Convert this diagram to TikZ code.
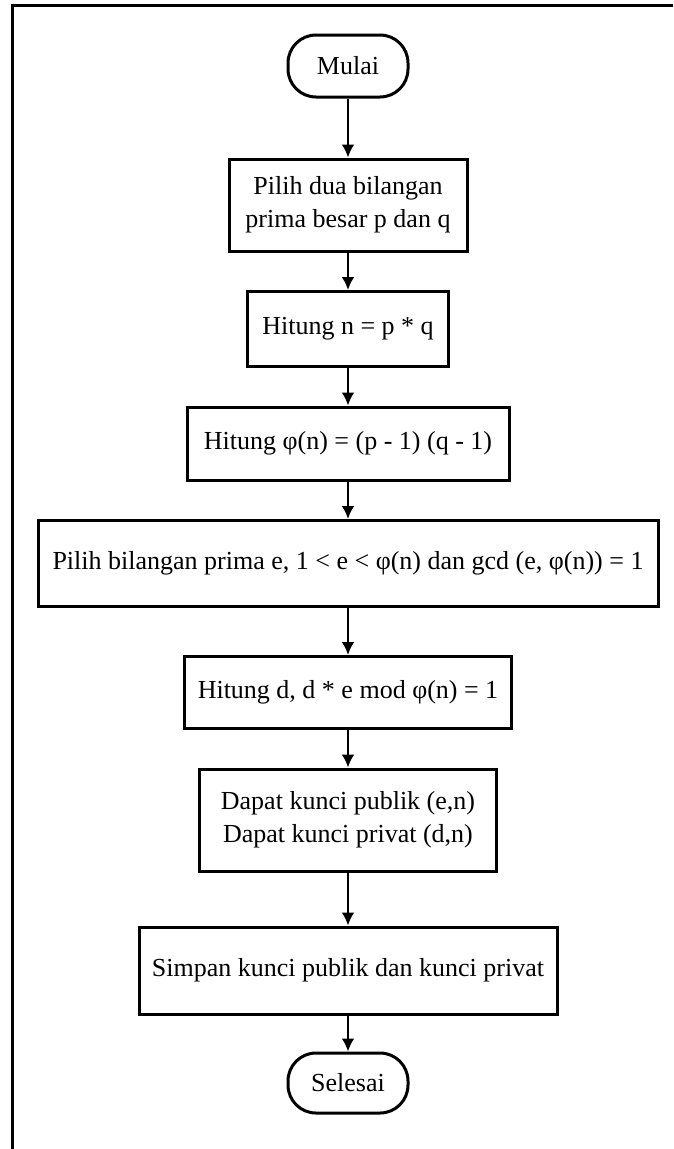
\documentclass[tikz,border=0pt]{standalone}
\usepackage{fontspec}
\setmainfont{Liberation Serif}
\usetikzlibrary{positioning,arrows.meta}
\def\dy{37.5pt}
\tikzstyle{proc}=[draw,rectangle,line width=3pt,align=center,inner sep=2pt,font=\fontsize{26}{33}\selectfont]
\tikzstyle{term}=[proc,rounded corners=28pt]
\newcommand{\newStep}[4]{\node[#4](#1)[#3]{#2};}
\newcommand{\newFlow}[2]{\path[->] (#1) edge (#2);}

\begin{document}
\begin{tikzpicture}[node distance=\dy,
    >={Latex[length=13pt,width=13pt]},
    line width=2.5pt  %arrows
    ]
    \useasboundingbox (0,0) rectangle (673pt,-1149pt);
    % frame, top and left only
    \draw[line width=3pt] (673pt,-5pt) -- (12pt,-5pt) -- (12pt,-1149pt);
    \newStep{start}{Mulai}{at={(348pt,-66pt)}}{term,minimum width=120pt,minimum height=62pt}
    \newStep{pick}{Pilih dua bilangan\\prima besar p dan q}{below=59pt of start}{proc,minimum width=238pt,minimum height=92pt}
    \newStep{mult}{Hitung n = p * q}{below=of pick}{proc,minimum width=201pt,minimum height=75pt}
    \newStep{phi}{Hitung φ(n) = (p - 1) (q - 1)}{below=of mult}{proc,minimum width=322pt,minimum height=73pt}
    \newStep{pube}{Pilih bilangan prima e, 1 < e < φ(n) dan gcd (e, φ(n)) = 1}{below=of phi}{proc,minimum width=620pt,minimum height=86pt}
    \newStep{prvd}{Hitung d, d * e mod φ(n) = 1}{below=47pt of pube}{proc,minimum width=327pt,minimum height=72pt}
    \newStep{keys}{Dapat kunci publik (e,n)\\Dapat kunci privat (d,n)}{below=of prvd}{proc,minimum width=297pt,minimum height=102pt}
    \newStep{save}{Simpan kunci publik dan kunci privat}{below=53pt of keys}{proc,minimum width=418pt,minimum height=87pt}
    \newStep{stop}{Selesai}{below=36pt of save}{term,minimum width=120pt,minimum height=60pt}
    \newFlow{start}{pick}
    \newFlow{pick}{mult}
    \newFlow{mult}{phi}
    \newFlow{phi}{pube}
    \newFlow{pube}{prvd}
    \newFlow{prvd}{keys}
    \newFlow{keys}{save}
    \newFlow{save}{stop}
\end{tikzpicture}
\end{document}
